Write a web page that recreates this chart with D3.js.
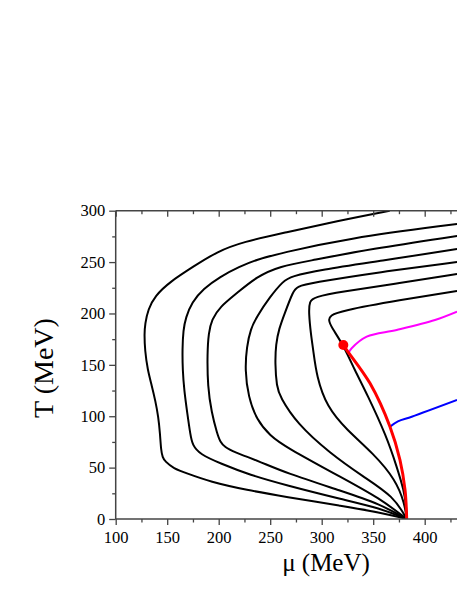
<!DOCTYPE html>
<html><head><meta charset="utf-8">
<script src="https://cdn.jsdelivr.net/npm/d3@7"></script>
<style>html,body{margin:0;padding:0;background:#fff;overflow:hidden}svg{display:block}</style>
</head><body>
<script>
// ---- data (mu in MeV, T in MeV) ----
const xTicksMajor = [100,150,200,250,300,350,400,450];
const xTicksMinor = [125,175,225,275,325,375,425];
const yTicksMajor = [0,50,100,150,200,250,300];
const yTicksMinor = [25,75,125,175,225,275];

const curveA = [[366,300],[315,290],[264.4,278.6],[223.9,269.8],[198.1,260.1],[175.3,245.5],[152.7,230.9],[138,217],[131.5,204],[128.5,190],[127.8,180],[128.4,164],[131,145],[135,130],[138.5,115],[141.4,99.5],[143,83.6],[144,67],[145.5,60],[148,56],[156,49.3],[169,44.5],[191.6,36.3],[227.2,28.2],[264.4,21.7],[320,12.5],[356.6,6.5],[382.5,0]];
const curveB = [[431.4,287.1],[324.3,273.1],[259.5,258.5],[236.9,252.5],[220,245.5],[201.3,235.8],[185,224],[174,211],[168,196],[165.6,183.9],[164.7,165],[165,145],[166.5,125],[169.5,102.9],[172.5,82],[174.5,72],[181.8,63],[201.3,54.2],[230.4,42.8],[264.4,33.1],[320,19],[356.6,10.5],[382.5,0]];
const curveC = [[431.4,275.4],[346.9,262.7],[290,251.5],[259.5,246],[236.9,235.8],[217.5,219.6],[201.3,206.6],[193.2,194],[190.2,181],[188.9,161.2],[189.3,128.7],[193,104],[198.5,83],[201.5,75],[206,70],[214.2,65.5],[240.1,55.8],[264.4,45.1],[320,27],[356.6,14.5],[382.5,0]];
const curveD = [[431.4,262.7],[356.6,251],[298.4,242.3],[270,236],[262.7,231.6],[249.8,216.3],[236.9,196.8],[231,185],[227.2,167.7],[225.5,145.0],[228.7,119.0],[236.9,96.3],[250,81],[264.4,70.4],[320,40],[356.6,20],[382.5,0]];
const curveE = [[431.4,250.1],[356.6,240.3],[288.6,229.6],[276,226],[272.4,221.9],[264,200],[258.5,185],[255.5,170],[254.7,151.5],[256.3,128.7],[259.5,119.0],[275.7,93.1],[308.1,63.9],[340.4,41.2],[370,22],[382.5,0]];
const curveF = [[431.4,238.4],[376.0,229.6],[317.8,220.9],[293,216],[288,212],[287.5,200],[289.5,180],[291.8,164.4],[295.1,138.5],[304.9,109.3],[324.3,86.6],[350.1,63.9],[372,38],[380.5,15],[382.5,0]];
const curveG = [[431.4,221.9],[376,213.1],[317.8,202.4],[308.5,198],[306.4,194],[309.5,186.5],[321,169.3],[332,145],[343.7,122.3],[363.1,80.1],[372.8,50.9],[379.9,28],[382.3,10],[382.5,0]];
const redLine = [[321,169.3],[324.3,164.4],[346.9,132.0],[366.3,89.8],[376.0,57.4],[380.9,28.2],[382.5,0]];
const magentaLine = [[325.8,161.2],[329.1,166.1],[343.7,177.4],[372.8,183.9],[410.0,193.6],[431.4,201.7]];
const blueLine = [[366.3,89.8],[374,95],[387.4,99.5],[431.4,115.8]];
const cep = [321,169.3];

const W = 457, H = 591;
const x = d3.scaleLinear().domain([100,440]).range([115.7,115.7+340*1.03]);
const y = d3.scaleLinear().domain([0,300]).range([519,210.7]);
const font = "'Liberation Serif','Times New Roman',serif";

const svg = d3.select("body").append("svg").attr("width",W).attr("height",H);
svg.append("defs").append("clipPath").attr("id","clip").append("rect")
  .attr("x",x(100)).attr("y",y(300)).attr("width",x(440)-x(100)).attr("height",y(0)-y(300));

const line = d3.line().x(d=>x(d[0])).y(d=>y(d[1])).curve(d3.curveBasis);
const lineC = d3.line().x(d=>x(d[0])).y(d=>y(d[1])).curve(d3.curveCatmullRom.alpha(0.5));
const g = svg.append("g").attr("clip-path","url(#clip)");
[curveA,curveB,curveC,curveD,curveE,curveF,curveG].forEach(c=>{
  g.append("path").attr("d",line(c)).attr("fill","none").attr("stroke","#000").attr("stroke-width",2);
});
g.append("path").attr("d",lineC(magentaLine)).attr("fill","none").attr("stroke","#ff00ff").attr("stroke-width",2);
g.append("path").attr("d",lineC(blueLine)).attr("fill","none").attr("stroke","#0000ff").attr("stroke-width",2);
g.append("path").attr("d",lineC(redLine)).attr("fill","none").attr("stroke","#ff0000").attr("stroke-width",3);
g.append("circle").attr("cx",x(cep[0])).attr("cy",y(cep[1])).attr("r",5).attr("fill","#ff0000");

const axisColor = "#444";
function styleAxis(sel){
  sel.select(".domain").remove();
  sel.selectAll("line").attr("stroke",axisColor).attr("stroke-width",1.3);
  sel.selectAll("text").attr("font-family",font).attr("font-size","16.5px").attr("fill","#000");
}
// bottom
svg.append("g").attr("transform",`translate(0,${y(0)})`)
  .call(d3.axisBottom(x).tickValues(xTicksMajor).tickSize(6).tickPadding(6).tickFormat(d=>d>=440?"":d))
  .call(styleAxis);
svg.append("g").attr("transform",`translate(0,${y(0)})`)
  .call(d3.axisBottom(x).tickValues(xTicksMinor).tickSize(3.5).tickFormat(""))
  .call(styleAxis);
// top (inward)
svg.append("g").attr("transform",`translate(0,${y(300)})`)
  .call(d3.axisTop(x).tickValues(xTicksMajor).tickSize(-6).tickFormat(""))
  .call(styleAxis);
svg.append("g").attr("transform",`translate(0,${y(300)})`)
  .call(d3.axisTop(x).tickValues(xTicksMinor).tickSize(-3.5).tickFormat(""))
  .call(styleAxis);
// left
svg.append("g").attr("transform",`translate(${x(100)},0)`)
  .call(d3.axisLeft(y).tickValues(yTicksMajor).tickSize(6.5).tickPadding(4))
  .call(styleAxis);
svg.append("g").attr("transform",`translate(${x(100)},0)`)
  .call(d3.axisLeft(y).tickValues(yTicksMinor).tickSize(3.5).tickFormat(""))
  .call(styleAxis);
// frame lines
svg.append("line").attr("x1",x(100)).attr("x2",W).attr("y1",y(0)).attr("y2",y(0)).attr("stroke",axisColor).attr("stroke-width",1.5);
svg.append("line").attr("x1",x(100)).attr("x2",W).attr("y1",y(300)).attr("y2",y(300)).attr("stroke",axisColor).attr("stroke-width",1.5);
svg.append("line").attr("x1",x(100)).attr("x2",x(100)).attr("y1",y(0)).attr("y2",y(300)).attr("stroke",axisColor).attr("stroke-width",1.5);

// titles
svg.append("text").attr("x",326).attr("y",571).attr("text-anchor","middle")
  .attr("font-family",font).attr("font-size","25px").text("μ (MeV)");
svg.append("text").attr("transform","translate(53,368) rotate(-90)").attr("text-anchor","middle")
  .attr("font-family",font).attr("font-size","28px").text("T (MeV)");
</script>
</body></html>
